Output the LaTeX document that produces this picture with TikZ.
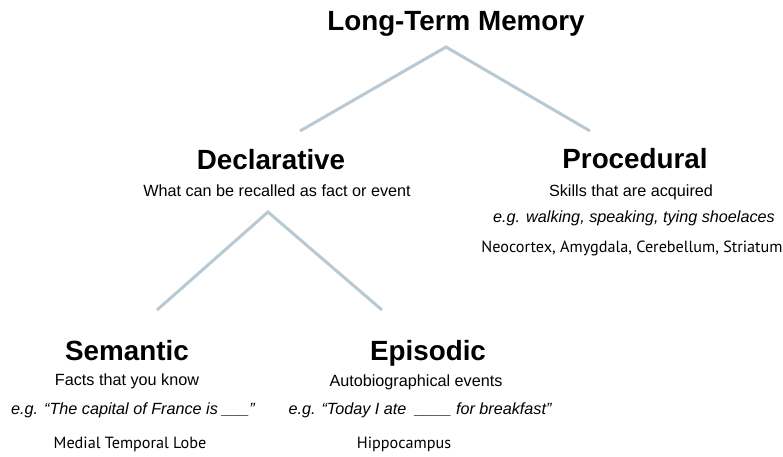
\documentclass[tikz,border=0pt]{standalone}
\usepackage{fontspec}
\setmainfont{Liberation Sans}
\newfontfamily\areafont{PT Sans}
\usepackage{tikz}

\begin{document}
\begin{tikzpicture}[x=1pt,y=-1pt,line width=3pt,
  every node/.style={anchor=base,inner sep=0pt},
  head/.style={font=\fontsize{27.8}{32}\selectfont\bfseries},
  desc/.style={font=\fontsize{16.2}{19}\selectfont},
  ex/.style={font=\fontsize{16.2}{19}\selectfont\itshape},
  area/.style={font=\areafont\fontsize{16.2}{19}\selectfont}]
  \definecolor{branch}{RGB}{185,201,211}
  \useasboundingbox (0,0) rectangle (783,456);
  % top level
  \node[head] (ltm) at (456,30) {Long-Term Memory};
  \coordinate (ltmtop) at (446,47);
  \coordinate (decend) at (300,131);
  \coordinate (proend) at (590,131);
  \draw[branch] (decend) -- (ltmtop) -- (proend);
  % declarative
  \node[head] (dec) at (271,169) {Declarative};
  \node[desc] (decdesc) at (277,196) {What can be recalled as fact or event};
  \coordinate (dectop) at (268,212);
  \coordinate (semend) at (157,310);
  \coordinate (epiend) at (382,310);
  \draw[branch] (semend) -- (dectop) -- (epiend);
  % procedural
  \node[head] (pro) at (635,168) {Procedural};
  \node[desc] (prodesc) at (631,196) {Skills that are acquired};
  \node[ex] (proex) at (634,222) {e.g. walking, speaking, tying shoelaces};
  \node[area] (proarea) at (632,252) {Neocortex, Amygdala, Cerebellum, Striatum};
  % semantic
  \node[head] (sem) at (127,360) {Semantic};
  \node[desc] (semdesc) at (127,385) {Facts that you know};
  \node[ex] (semex) at (133,414) {e.g. “The capital of France is \_\_\_”};
  \node[area] (semarea) at (130,448) {Medial Temporal Lobe};
  % episodic
  \node[head] (epi) at (428,360) {Episodic};
  \node[desc] (epidesc) at (416,386) {Autobiographical events};
  \node[ex] (epiex) at (420,414) {e.g. “Today I ate \ \_\_\_\_ for breakfast”};
  \node[area] (epiarea) at (404,448) {Hippocampus};
\end{tikzpicture}
\end{document}
